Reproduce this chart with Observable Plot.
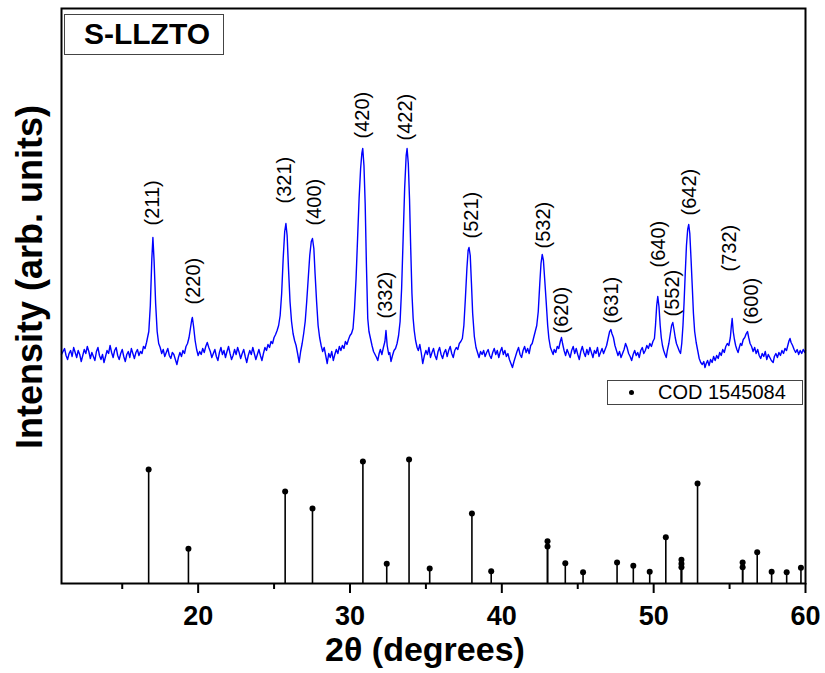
<!DOCTYPE html>
<html><head><meta charset="utf-8">
<script src="https://cdn.jsdelivr.net/npm/d3@7"></script>
<script src="https://cdn.jsdelivr.net/npm/@observablehq/plot@0.6"></script>
<style>
body{margin:0;background:#fff;font-family:"Liberation Sans",Arial,sans-serif;}
#wrap{position:relative;width:825px;height:673px;overflow:hidden;}
#wrap svg{display:block;}
.title-box{position:absolute;left:64px;top:14px;width:160px;height:41px;box-sizing:border-box;border:1.5px solid #444;background:#fff;
  font-weight:bold;font-size:30px;line-height:38px;text-align:center;padding-left:6px;color:#000;}
.legend-box{position:absolute;left:607px;top:380px;width:196px;height:25px;box-sizing:border-box;border:1px solid #444;background:#fff;
  font-size:20px;line-height:23px;color:#000;}
.legend-box .dot{position:absolute;left:21px;top:9px;width:5px;height:5px;border-radius:50%;background:#000;}
.legend-box .txt{position:absolute;left:50px;top:0;white-space:nowrap;}
.ylab{position:absolute;left:30px;top:277px;transform:translate(-50%,-50%) rotate(-90deg);white-space:nowrap;font-weight:bold;font-size:36px;line-height:1;color:#000;}
.xlab{position:absolute;left:425px;top:632px;transform:translateX(-50%);white-space:nowrap;font-weight:bold;font-size:34px;line-height:1;color:#000;}
</style></head><body><div id="wrap"></div><script>
// Measured XRD pattern: [2θ (deg), intensity (arb. units)]
const xrdPoints = [
[11.0,229],[11.1,232],[11.2,235],[11.3,228],[11.4,224],[11.5,230],[11.6,233],[11.7,227],[11.8,236],[11.9,231],
[12.0,226],[12.1,233],[12.2,229],[12.3,222],[12.4,228],[12.5,234],[12.6,230],[12.7,237],[12.8,232],[12.9,225],
[13.0,231],[13.1,227],[13.2,223],[13.3,232],[13.4,236],[13.5,228],[13.6,224],[13.7,229],[13.8,221],[13.9,227],
[14.0,233],[14.1,230],[14.2,238],[14.3,231],[14.4,226],[14.5,233],[14.6,236],[14.7,228],[14.8,224],[14.9,230],
[15.0,234],[15.1,227],[15.2,222],[15.3,229],[15.4,232],[15.5,226],[15.6,235],[15.7,230],[15.8,225],[15.9,231],
[16.0,234],[16.1,228],[16.2,232],[16.3,230],[16.4,237],[16.5,235],[16.6,241],[16.75,252],[16.85,278],[16.95,325],
[17.02,346],[17.1,322],[17.2,280],[17.3,252],[17.4,240],[17.5,236],[17.6,230],[17.7,234],[17.8,227],[17.9,231],
[18.0,235],[18.1,228],[18.2,225],[18.3,231],[18.4,229],[18.5,224],[18.6,219],[18.7,226],[18.8,231],[18.9,227],
[19.0,233],[19.1,230],[19.2,237],[19.3,240],[19.4,246],[19.5,256],[19.58,264],[19.62,266],[19.7,257],[19.8,243],
[19.9,234],[20.0,228],[20.1,232],[20.2,229],[20.3,235],[20.4,231],[20.5,237],[20.6,241],[20.7,236],[20.8,232],
[20.9,226],[21.0,230],[21.1,234],[21.2,227],[21.3,223],[21.4,231],[21.5,236],[21.6,229],[21.7,233],[21.8,226],
[21.9,232],[22.0,237],[22.1,230],[22.2,224],[22.3,228],[22.4,234],[22.5,229],[22.6,236],[22.7,231],[22.8,225],
[22.9,230],[23.0,234],[23.1,227],[23.2,221],[23.3,228],[23.4,233],[23.5,229],[23.6,236],[23.7,230],[23.8,224],
[23.9,229],[24.0,234],[24.1,228],[24.2,223],[24.3,230],[24.4,236],[24.5,233],[24.6,239],[24.7,236],[24.8,242],
[24.9,240],[25.0,246],[25.1,249],[25.2,253],[25.3,258],[25.4,268],[25.5,290],[25.6,325],[25.7,352],[25.78,360],
[25.86,348],[25.95,315],[26.05,282],[26.15,262],[26.25,250],[26.35,243],[26.45,238],[26.55,230],[26.65,221],[26.75,232],
[26.85,240],[26.95,250],[27.05,262],[27.15,282],[27.25,305],[27.35,328],[27.45,342],[27.53,345],[27.62,335],[27.7,310],
[27.8,282],[27.9,258],[28.0,246],[28.1,238],[28.2,232],[28.3,236],[28.4,228],[28.5,220],[28.6,230],[28.7,226],
[28.8,232],[28.9,223],[29.0,229],[29.1,234],[29.2,230],[29.3,237],[29.4,233],[29.5,238],[29.6,235],[29.7,242],
[29.8,239],[29.9,244],[30.0,248],[30.1,250],[30.2,255],[30.3,275],[30.4,305],[30.5,345],[30.6,385],[30.7,415],
[30.78,430],[30.84,435],[30.92,418],[31.0,380],[31.08,320],[31.17,265],[31.25,252],[31.35,245],[31.45,238],[31.55,232],
[31.65,229],[31.75,226],[31.83,223],[31.92,230],[32.0,234],[32.1,229],[32.2,236],[32.3,242],[32.37,253],[32.45,238],
[32.55,229],[32.62,231],[32.7,222],[32.8,228],[32.9,233],[33.0,235],[33.1,240],[33.2,248],[33.3,262],[33.4,295],
[33.5,345],[33.6,395],[33.7,428],[33.76,435],[33.84,420],[33.92,385],[34.0,335],[34.08,290],[34.16,265],[34.23,253],
[34.32,243],[34.42,236],[34.5,233],[34.6,239],[34.7,230],[34.79,220],[34.9,228],[35.0,233],[35.1,229],[35.2,236],
[35.3,226],[35.4,231],[35.5,235],[35.6,228],[35.7,224],[35.8,232],[35.9,236],[36.0,229],[36.1,225],[36.2,231],
[36.3,234],[36.4,227],[36.5,233],[36.6,237],[36.7,230],[36.8,226],[36.9,233],[37.0,236],[37.1,234],[37.2,240],
[37.3,242],[37.4,245],[37.5,258],[37.6,285],[37.7,315],[37.78,333],[37.84,336],[37.92,328],[38.0,300],[38.08,270],
[38.19,247],[38.3,236],[38.4,231],[38.5,226],[38.6,232],[38.7,229],[38.8,233],[38.9,227],[39.0,231],[39.1,234],
[39.2,228],[39.3,225],[39.4,231],[39.5,235],[39.6,229],[39.7,233],[39.8,226],[39.9,232],[40.0,236],[40.1,229],
[40.2,233],[40.3,227],[40.4,230],[40.5,224],[40.6,220],[40.7,216],[40.8,222],[40.9,227],[41.0,232],[41.1,236],
[41.2,229],[41.3,226],[41.4,233],[41.5,237],[41.6,231],[41.7,235],[41.8,230],[41.9,238],[42.0,240],[42.1,246],
[42.2,252],[42.3,258],[42.4,272],[42.5,300],[42.58,320],[42.66,329],[42.74,323],[42.82,305],[42.92,282],[43.02,258],
[43.1,245],[43.2,236],[43.3,232],[43.38,229],[43.45,234],[43.55,231],[43.65,237],[43.75,235],[43.85,242],[43.93,246],
[44.0,240],[44.1,233],[44.2,228],[44.3,234],[44.4,230],[44.5,226],[44.6,233],[44.7,237],[44.8,230],[44.9,235],
[45.0,229],[45.1,224],[45.2,232],[45.3,237],[45.4,231],[45.5,227],[45.6,234],[45.7,229],[45.8,236],[45.9,231],
[46.0,226],[46.1,233],[46.2,230],[46.3,236],[46.4,227],[46.5,231],[46.6,235],[46.7,230],[46.8,234],[46.9,238],
[47.0,245],[47.1,252],[47.18,254],[47.25,250],[47.35,246],[47.45,238],[47.55,233],[47.65,228],[47.75,232],[47.85,226],
[47.95,230],[48.05,234],[48.15,240],[48.25,236],[48.35,230],[48.45,227],[48.55,223],[48.65,229],[48.75,233],[48.85,228],
[48.95,231],[49.05,226],[49.15,233],[49.25,236],[49.35,230],[49.45,233],[49.55,238],[49.65,235],[49.75,240],[49.85,237],
[49.95,242],[50.05,245],[50.12,258],[50.2,278],[50.27,287],[50.35,277],[50.43,258],[50.5,246],[50.58,238],[50.66,233],
[50.75,229],[50.83,226],[50.9,233],[51.0,240],[51.1,250],[51.18,258],[51.26,261],[51.34,254],[51.42,246],[51.5,240],
[51.6,236],[51.7,232],[51.77,230],[51.85,240],[51.93,258],[52.0,280],[52.08,310],[52.16,338],[52.24,354],[52.31,359],
[52.38,350],[52.46,325],[52.54,298],[52.62,270],[52.7,252],[52.8,241],[52.9,233],[53.0,225],[53.1,221],[53.2,219],
[53.3,222],[53.38,216],[53.46,220],[53.55,223],[53.65,218],[53.75,224],[53.85,221],[53.95,227],[54.05,223],[54.15,228],
[54.25,225],[54.35,231],[54.45,228],[54.55,234],[54.65,231],[54.75,237],[54.85,240],[54.95,238],[55.05,246],[55.12,258],
[55.17,265],[55.24,252],[55.32,244],[55.4,238],[55.48,234],[55.56,231],[55.64,236],[55.72,240],[55.8,238],[55.9,244],
[56.0,246],[56.1,250],[56.18,252],[56.26,246],[56.35,240],[56.45,237],[56.55,232],[56.65,236],[56.75,230],[56.85,234],
[56.95,228],[57.05,225],[57.15,230],[57.25,227],[57.35,232],[57.45,224],[57.55,229],[57.65,226],[57.75,223],[57.87,221],
[57.95,227],[58.05,230],[58.15,226],[58.25,231],[58.35,228],[58.45,233],[58.55,230],[58.65,235],[58.75,233],[58.85,239],
[58.92,243],[58.98,245],[59.05,241],[59.15,238],[59.25,234],[59.35,231],[59.45,234],[59.55,229],[59.65,233],[59.75,230],
[59.85,234],[59.95,231],[60.0,233]
];

// Reference pattern COD 1545084: positions and relative intensities (%)
const codTwoTheta = [16.74,19.36,25.73,27.53,30.85,32.42,33.89,35.25,38.03,39.30,43.01,43.01,44.18,45.35,47.59,48.66,49.74,50.80,51.83,51.83,51.83,52.89,55.86,55.86,56.82,57.77,58.76,59.70];
const codRelInt  = [91.9,28.0,74.2,60.5,98.4,15.9,100,12.1,56.5,9.9,34.1,29.8,16.4,9.1,16.9,14.3,9.4,37.3,19.1,15.9,13.1,80.6,16.9,13.1,25.2,9.4,9.1,12.7];
const codScale = 1.24; // relative % -> arb. units of the plot

// Miller indices of the labelled peaks
const peakHKL      = ["(211)","(220)","(321)","(400)","(420)","(332)","(422)","(521)","(532)","(620)","(631)","(640)","(552)","(642)","(732)","(600)"];
const peakTwoTheta = [16.98,19.73,25.67,27.64,30.84,32.33,33.69,37.98,42.77,43.92,47.21,50.33,51.22,52.38,55.02,56.45];
const peakLabelY   = [358,279,380,358,445,265,443,345,335,250,260,316,267,368,312,259];

const majorTicks = [20,30,40,50,60];
const minorTicks = [15,25,35,45,55];

const pattern = xrdPoints.map(([t,i]) => ({t, i}));
const sticks = codTwoTheta.map((t,k) => ({t, h: codRelInt[k]*codScale}));
const peaks = peakHKL.map((s,k) => ({s, t: peakTwoTheta[k], y: peakLabelY[k]}));

const chart = Plot.plot({
  width: 825, height: 673,
  marginLeft: 61, marginRight: 20, marginTop: 8, marginBottom: 90,
  style: {fontFamily: "'Liberation Sans', Arial, sans-serif", background: "white", color: "#000", overflow: "visible"},
  x: {domain: [11, 60]},
  y: {domain: [0, 575], axis: null},
  marks: [
    Plot.ruleX(sticks, {x: "t", y1: 0, y2: "h", stroke: "#000", strokeWidth: 1.6}),
    Plot.dot(sticks, {x: "t", y: "h", r: 3, fill: "#000"}),
    Plot.line(pattern, {x: "t", y: "i", stroke: "#0000ff", strokeWidth: 1.4}),
    Plot.text(peaks, {x: "t", y: "y", text: "s", rotate: -90, textAnchor: "start", fontSize: 20, fill: "#000"}),
    Plot.axisX({ticks: majorTicks, tickSize: 10, tickPadding: 12, fontSize: 27, fontWeight: "bold", strokeWidth: 2, label: null}),
    Plot.axisX({ticks: minorTicks, tickSize: 6, tickFormat: () => "", strokeWidth: 2, label: null}),
    Plot.frame({stroke: "#000", strokeWidth: 2})
  ]
});

const wrap = document.getElementById("wrap");
wrap.appendChild(chart);
wrap.insertAdjacentHTML("beforeend",
  `<div class="title-box">S-LLZTO</div>
   <div class="legend-box"><span class="dot"></span><span class="txt">COD 1545084</span></div>
   <div class="ylab">Intensity (arb. units)</div>
   <div class="xlab">2θ (degrees)</div>`);
</script></body></html>
